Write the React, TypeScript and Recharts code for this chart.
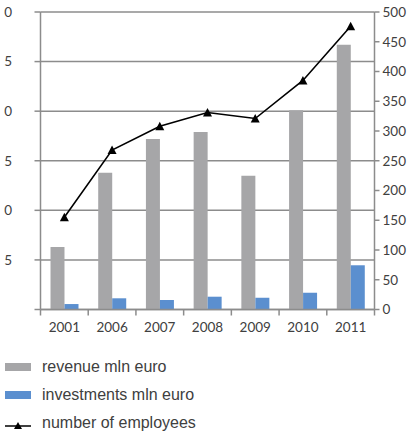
import { ComposedChart, Bar, Line, XAxis, YAxis, CartesianGrid } from 'recharts';

const years = ['2001', '2006', '2007', '2008', '2009', '2010', '2011'];
const revenue = [6.3, 13.8, 17.2, 17.9, 13.5, 20.1, 26.7];
const investments = [0.55, 1.13, 0.96, 1.29, 1.19, 1.69, 4.46];
const employees = [155, 268, 308, 331, 321, 385, 476];
const leftTicks = [0, 5, 10, 15, 20, 25, 30];
// the reference is cropped on the left: only the last digit of each label is visible
const leftTickLabels = ['', '5', '0', '5', '0', '5', '0'];
const rightTicks = [0, 50, 100, 150, 200, 250, 300, 350, 400, 450, 500];

const data = years.map((year, i) => ({
  year,
  revenue: revenue[i],
  investments: investments[i],
  employees: employees[i],
}));

const GRID = '#8c8c8c';
const TEXT = '#404040';
const GREY = '#a6a6a8';
const BLUE = '#5b8fcf';
const TICK_FONT = 'Lato, "Open Sans", sans-serif';

const PLOT_LEFT = 40.5;
const PLOT_RIGHT = 374.5;
const BAND = (PLOT_RIGHT - PLOT_LEFT) / years.length;

const YearTick = (props: any) => {
  const { x, y, payload, index } = props;
  const last = index === years.length - 1;
  return (
    <g>
      <line x1={x - BAND / 2} x2={x - BAND / 2} y1={y} y2={y + 6} stroke={GRID} strokeWidth={1.5} />
      {last && (
        <line x1={x + BAND / 2} x2={x + BAND / 2} y1={y} y2={y + 6} stroke={GRID} strokeWidth={1.5} />
      )}
      <text x={x} y={y + 22} textAnchor="middle" fill={TEXT} fontSize={13.5} fontFamily={TICK_FONT}>
        {payload.value}
      </text>
    </g>
  );
};

const Triangle = (props: any) => {
  const { cx, cy } = props;
  if (cx == null || cy == null) return null;
  return <polygon points={`${cx - 4.5},${cy + 4} ${cx + 4.5},${cy + 4} ${cx},${cy - 4.5}`} fill="#000" />;
};

const LegendRow = ({ top, children, label }: { top: number; children: any; label: string }) => (
  <div style={{ position: 'absolute', left: 5, top, height: 20, display: 'flex', alignItems: 'center' }}>
    <svg width={27} height={20} style={{ display: 'block' }}>
      {children}
    </svg>
    <span
      style={{
        marginLeft: 10,
        fontFamily: '"Liberation Sans", Arial, sans-serif',
        fontSize: 16,
        color: TEXT,
        whiteSpace: 'nowrap',
      }}
    >
      {label}
    </span>
  </div>
);

export default function App() {
  return (
    <div
      style={{
        position: 'fixed',
        left: 0,
        top: 0,
        width: 410,
        height: 432,
        overflow: 'hidden',
        background: '#fff',
      }}
    >
      <ComposedChart
        width={410}
        height={340}
        data={data}
        margin={{ top: 12, right: 0, bottom: 0.5, left: 0 }}
        barGap={0}
        barCategoryGap={0}
      >
        <CartesianGrid yAxisId="left" vertical={false} stroke={GRID} strokeWidth={1.5} />
        <XAxis
          dataKey="year"
          height={30}
          tickSize={0}
          tickMargin={0}
          tickLine={false}
          axisLine={{ stroke: GRID, strokeWidth: 1.5 }}
          tick={<YearTick />}
          interval={0}
        />
        <YAxis
          yAxisId="left"
          width={PLOT_LEFT}
          domain={[0, 30]}
          ticks={leftTicks}
          tickFormatter={(v: number) => leftTickLabels[leftTicks.indexOf(v)] ?? ''}
          tickSize={6}
          tickMargin={22.5}
          tickLine={{ stroke: GRID, strokeWidth: 1.5 }}
          axisLine={{ stroke: GRID, strokeWidth: 1.5 }}
          tick={{ fill: TEXT, fontSize: 13.5, fontFamily: TICK_FONT }}
          interval={0}
        />
        <YAxis
          yAxisId="right"
          orientation="right"
          width={410 - PLOT_RIGHT}
          domain={[0, 500]}
          ticks={rightTicks}
          tickSize={5}
          tickMargin={3}
          tickLine={{ stroke: GRID, strokeWidth: 1.5 }}
          axisLine={{ stroke: GRID, strokeWidth: 1.5 }}
          tick={{ fill: TEXT, fontSize: 13.5, fontFamily: TICK_FONT, textAnchor: 'start' }}
          interval={0}
        />
        <Bar yAxisId="left" dataKey="revenue" fill={GREY} barSize={14} isAnimationActive={false} />
        <Bar yAxisId="left" dataKey="investments" fill={BLUE} barSize={14} isAnimationActive={false} />
        <Line
          yAxisId="right"
          dataKey="employees"
          type="linear"
          stroke="#000"
          strokeWidth={1.6}
          dot={<Triangle />}
          activeDot={false}
          isAnimationActive={false}
        />
      </ComposedChart>
      <LegendRow top={357} label="revenue mln euro">
        <rect x={0} y={6} width={26} height={8} fill={GREY} />
      </LegendRow>
      <LegendRow top={385} label="investments mln euro">
        <rect x={0} y={6} width={26} height={8} fill={BLUE} />
      </LegendRow>
      <LegendRow top={413} label="number of employees">
        <line x1={0} x2={26} y1={13} y2={13} stroke="#000" strokeWidth={1.5} />
        <polygon points="9,16 17,16 13,9" fill="#000" />
      </LegendRow>
    </div>
  );
}
